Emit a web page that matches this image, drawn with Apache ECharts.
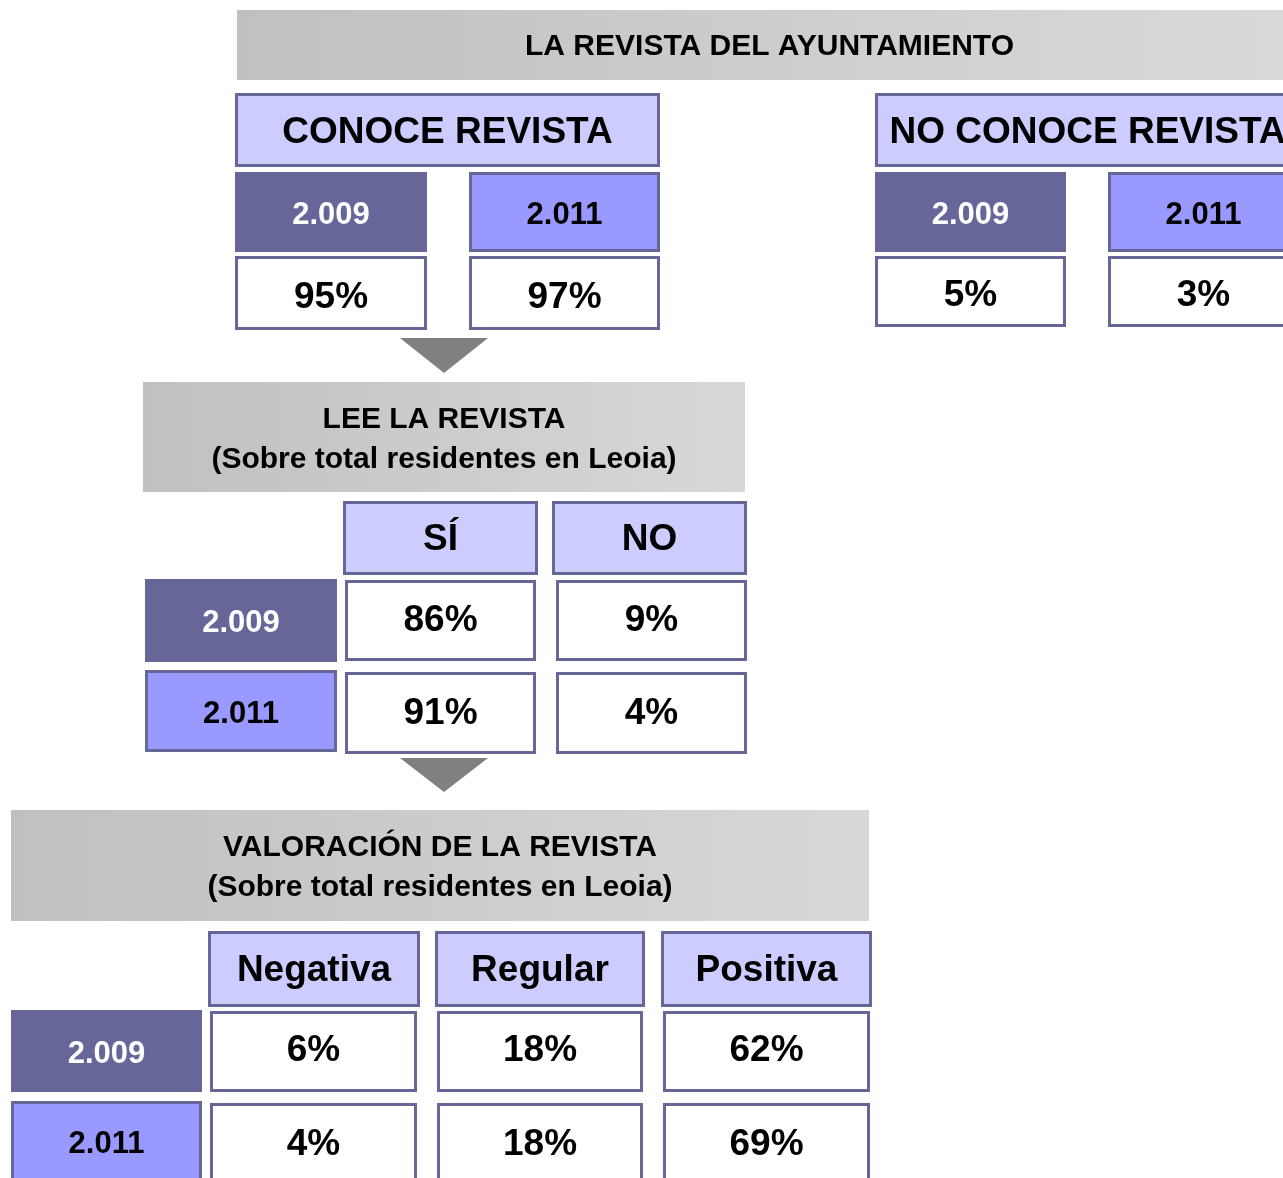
<!DOCTYPE html>
<html>
<head>
<meta charset="utf-8">
<script src="https://cdn.jsdelivr.net/npm/echarts@6/dist/echarts.min.js"></script>
<style>
html,body{margin:0;padding:0;background:#fff;}
#chart{width:1283px;height:1178px;}
</style>
</head>
<body>
<div id="chart"></div>
<script>
// ---- data ----
const mainTitle = 'LA REVISTA DEL AYUNTAMIENTO';
const years = ['2.009', '2.011'];
const conoceTitle = 'CONOCE REVISTA';
const noConoceTitle = 'NO CONOCE REVISTA';
const conoce = [95, 97];
const noConoce = [5, 3];
const leeTitle = ['LEE LA REVISTA', '(Sobre total residentes en Leoia)'];
const leeCats = ['SÍ', 'NO'];
const lee2009 = [86, 9];
const lee2011 = [91, 4];
const valTitle = ['VALORACIÓN DE LA REVISTA', '(Sobre total residentes en Leoia)'];
const valCats = ['Negativa', 'Regular', 'Positiva'];
const val2009 = [6, 18, 62];
const val2011 = [4, 18, 69];

// ---- styles ----
const DARK = '#666699', LIGHT = '#9999ff', HEAD = '#ccccff', BORDER = '#666699';
const FAMILY = 'Liberation Sans';
const OFF = 2; // text baseline correction
function gray(c2) {
  return {type:'linear', x:0, y:0, x2:1, y2:0, colorStops:[{offset:0,color:'#c0c0c0'},{offset:1,color:c2}]};
}

const els = [];
function txt(x, y, s, size, color) {
  els.push({type:'text', x:x, y:y + OFF, silent:true, style:{text:s, fill:color||'#000',
    fontFamily:FAMILY, fontSize:size, fontWeight:'bold',
    textAlign:'center', textVerticalAlign:'middle', align:'center', verticalAlign:'middle'}});
}
// box with label: ty = absolute y of text centre
function box(x1, y1, x2, y2, fill, stroke, label, size, color, ty) {
  if (stroke) {
    els.push({type:'rect', silent:true, shape:{x:x1+1.5, y:y1+1.5, width:x2-x1-3, height:y2-y1-3},
      style:{fill:fill, stroke:stroke, lineWidth:3}});
  } else {
    els.push({type:'rect', silent:true, shape:{x:x1, y:y1, width:x2-x1, height:y2-y1}, style:{fill:fill}});
  }
  if (label != null) txt((x1+x2)/2, ty != null ? ty : (y1+y2)/2, label, size, color);
}
function yearBox(i, x1, y1, x2, y2, ty) {
  if (i === 0) box(x1, y1, x2, y2, DARK, null, years[i], 31, '#fff', ty);
  else box(x1, y1, x2, y2, LIGHT, BORDER, years[i], 31, '#000', ty);
}
function pct(v) { return v + '%'; }
function arrow(cx, y1, y2) {
  els.push({type:'polygon', silent:true, shape:{points:[[cx-44,y1],[cx+44,y1],[cx,y2]]}, style:{fill:'#808080'}});
}

// main header
box(237, 10, 1302, 80, gray('#dadada'), null, mainTitle, 30, '#000', 45);

// conoce
box(235, 93, 660, 167, HEAD, BORDER, conoceTitle, 37, '#000', 131);
const conX = [[235,427],[469,660]];
conX.forEach((c,i)=>{ yearBox(i, c[0], 172, c[1], 252, 213); box(c[0], 256, c[1], 330, '#fff', BORDER, pct(conoce[i]), 37, '#000', 296); });

// no conoce
box(875, 93, 1300, 167, HEAD, BORDER, noConoceTitle, 37, '#000', 131);
const noX = [[875,1066],[1108,1299]];
noX.forEach((c,i)=>{ yearBox(i, c[0], 172, c[1], 252, 213); box(c[0], 256, c[1], 327, '#fff', BORDER, pct(noConoce[i]), 37, '#000', 294); });

arrow(444, 338, 373);

// lee
box(143, 382, 745, 492, gray('#d8d8d8'), null, null);
txt(444, 418, leeTitle[0], 30);
txt(444, 458, leeTitle[1], 30);
const leeX = [[343,538],[552,747]];
const leeCellX = [[345,536],[556,747]];
leeCats.forEach((c,i)=>box(leeX[i][0], 501, leeX[i][1], 575, HEAD, BORDER, c, 37, '#000', 538));
const leeRows = [lee2009, lee2011];
const leeRowY = [[579,662],[670,752]];
const leeCellY = [[580,661],[672,754]];
const leeLabelTy = [621, 712];
const leeCellTy = [619, 712];
leeRows.forEach((row,r)=>{
  yearBox(r, 145, leeRowY[r][0], 337, leeRowY[r][1], leeLabelTy[r]);
  row.forEach((v,i)=>box(leeCellX[i][0], leeCellY[r][0], leeCellX[i][1], leeCellY[r][1], '#fff', BORDER, pct(v), 37, '#000', leeCellTy[r]));
});

arrow(444, 758, 792);

// valoracion
box(11, 810, 869, 921, gray('#d8d8d8'), null, null);
txt(440, 846, valTitle[0], 30);
txt(440, 886, valTitle[1], 30);
const valX = [[208,420],[435,645],[661,872]];
const valCellX = [[210,417],[437,643],[663,870]];
valCats.forEach((c,i)=>box(valX[i][0], 931, valX[i][1], 1007, HEAD, BORDER, c, 37, '#000', 969));
const valRows = [val2009, val2011];
const valRowY = [[1010,1092],[1101,1183]];
const valCellY = [[1011,1092],[1103,1185]];
const valLabelTy = [1052, 1142];
const valCellTy = [1049, 1143];
valRows.forEach((row,r)=>{
  yearBox(r, 11, valRowY[r][0], 202, valRowY[r][1], valLabelTy[r]);
  row.forEach((v,i)=>box(valCellX[i][0], valCellY[r][0], valCellX[i][1], valCellY[r][1], '#fff', BORDER, pct(v), 37, '#000', valCellTy[r]));
});

const chart = echarts.init(document.getElementById('chart'), null, {renderer:'canvas', width:1283, height:1178});
chart.setOption({backgroundColor:'#ffffff', animation:false, graphic:{elements:els}});
</script>
</body>
</html>
